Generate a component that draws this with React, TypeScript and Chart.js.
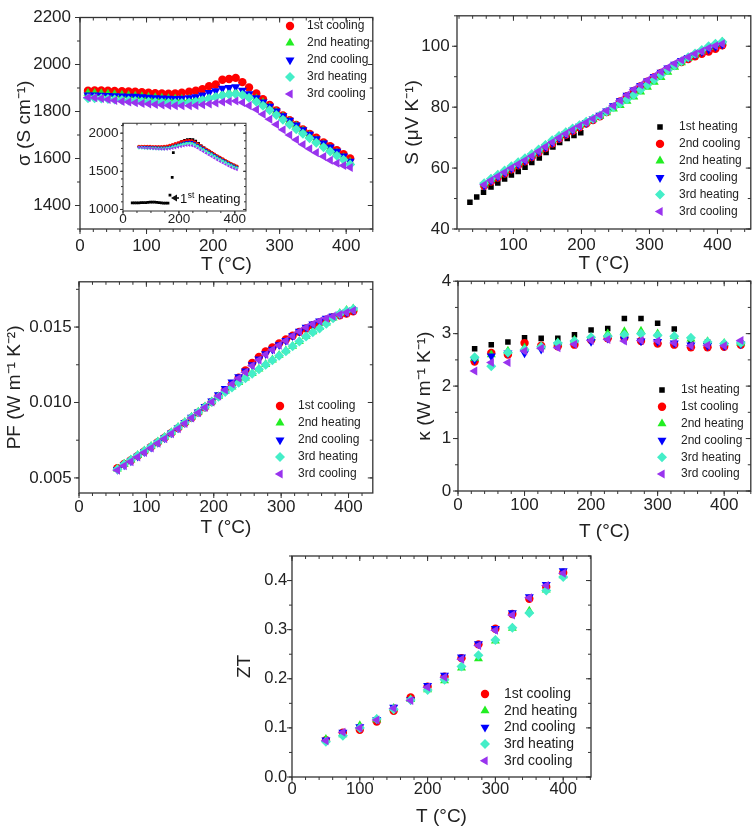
import React, { useEffect, useRef } from 'react';
import { Chart, registerables } from 'chart.js';
import { drawPoint } from 'chart.js/helpers';

Chart.register(...registerables);

const FONT = '"Liberation Sans", Arial, Helvetica, sans-serif';

// ---------------- σ (main) ----------------
const sigT = [12, 22, 32, 42, 52, 63, 73, 83, 93, 103, 113, 123, 133, 143, 153, 164, 174, 184, 194, 204, 214, 224, 234, 244, 254, 265, 275, 285, 295, 305, 315, 325, 335, 345, 355, 366, 376, 386, 396, 406];
const sig1stCooling = [1888, 1890, 1890, 1888, 1887, 1886, 1885, 1884, 1882, 1880, 1878, 1877, 1876, 1877, 1880, 1884, 1888, 1895, 1908, 1915, 1935, 1938, 1943, 1925, 1902, 1877, 1852, 1828, 1805, 1783, 1763, 1743, 1724, 1705, 1688, 1668, 1652, 1635, 1618, 1600];
const sig2ndHeating = [1878, 1878, 1877, 1875, 1873, 1870, 1868, 1866, 1864, 1862, 1860, 1858, 1856, 1854, 1853, 1853, 1855, 1858, 1862, 1868, 1875, 1880, 1882, 1878, 1868, 1855, 1838, 1818, 1798, 1778, 1758, 1738, 1718, 1698, 1678, 1660, 1642, 1625, 1605, 1585];
const sig2ndCooling = [1870, 1870, 1869, 1868, 1867, 1866, 1865, 1864, 1862, 1860, 1858, 1857, 1856, 1855, 1856, 1858, 1862, 1870, 1880, 1888, 1898, 1902, 1905, 1890, 1875, 1858, 1840, 1822, 1802, 1782, 1762, 1742, 1722, 1703, 1684, 1666, 1648, 1630, 1610, 1588];
const sig3rdHeating = [1856, 1856, 1855, 1853, 1851, 1849, 1847, 1845, 1843, 1841, 1839, 1838, 1837, 1836, 1836, 1838, 1842, 1848, 1855, 1862, 1868, 1872, 1875, 1870, 1858, 1842, 1825, 1805, 1785, 1765, 1745, 1725, 1705, 1686, 1667, 1648, 1630, 1612, 1595, 1575];
const sig3rdCooling = [1860, 1858, 1855, 1851, 1847, 1843, 1840, 1837, 1834, 1832, 1830, 1828, 1826, 1825, 1824, 1824, 1826, 1829, 1832, 1836, 1840, 1843, 1845, 1838, 1825, 1808, 1788, 1767, 1745, 1722, 1700, 1680, 1660, 1642, 1625, 1608, 1593, 1580, 1570, 1562];
const sigXTicks = [0, 100, 200, 300, 400];
const sigYTicks = [1400, 1600, 1800, 2000, 2200];

// ---------------- σ (inset) ----------------
const insT = [57, 67, 77, 87, 97, 107, 117, 127, 137, 147, 157, 167, 177, 187, 197, 207, 217, 227, 237, 247, 257, 267, 277, 287, 297, 307, 317, 327, 337, 347, 357, 367, 377, 387, 397, 407];
const ins1stCooling = [1825, 1826, 1826, 1825, 1824, 1823, 1822, 1822, 1823, 1826, 1830, 1838, 1848, 1860, 1872, 1884, 1895, 1902, 1905, 1898, 1880, 1858, 1835, 1812, 1790, 1768, 1746, 1724, 1702, 1680, 1660, 1640, 1620, 1600, 1582, 1566];
const ins2ndHeating = [1818, 1818, 1817, 1816, 1815, 1813, 1812, 1811, 1811, 1813, 1816, 1822, 1830, 1840, 1851, 1862, 1872, 1880, 1884, 1880, 1866, 1846, 1824, 1802, 1780, 1758, 1736, 1714, 1692, 1671, 1651, 1631, 1611, 1592, 1574, 1558];
const ins2ndCooling = [1820, 1820, 1819, 1818, 1816, 1814, 1812, 1810, 1809, 1810, 1813, 1819, 1828, 1839, 1851, 1863, 1875, 1884, 1889, 1884, 1868, 1847, 1825, 1802, 1780, 1758, 1736, 1714, 1692, 1671, 1650, 1630, 1610, 1591, 1573, 1556];
const ins3rdHeating = [1808, 1808, 1806, 1804, 1802, 1800, 1798, 1797, 1796, 1797, 1800, 1806, 1814, 1824, 1834, 1845, 1854, 1861, 1864, 1860, 1846, 1826, 1804, 1782, 1760, 1738, 1716, 1694, 1672, 1651, 1631, 1611, 1592, 1573, 1555, 1540];
const ins3rdCooling = [1812, 1810, 1807, 1804, 1801, 1798, 1795, 1793, 1791, 1790, 1791, 1795, 1801, 1808, 1816, 1824, 1832, 1838, 1841, 1836, 1822, 1803, 1781, 1759, 1737, 1715, 1693, 1671, 1650, 1629, 1609, 1589, 1570, 1552, 1536, 1522];
const insHeatT = [33, 41, 49, 57, 65, 73, 81, 89, 97, 105, 113, 121, 129, 137, 145, 153, 161, 168, 176, 180, 190, 200, 210, 220, 230, 240, 250, 260, 270, 280, 290, 300, 310, 320, 330, 340, 350, 360, 370, 380, 390, 400, 407];
const ins1stHeating = [1088, 1088, 1087, 1088, 1089, 1090, 1091, 1093, 1095, 1096, 1095, 1093, 1090, 1087, 1084, 1082, 1084, 1187, 1420, 1745, 1840, 1870, 1890, 1905, 1915, 1920, 1915, 1895, 1865, 1835, 1808, 1782, 1758, 1734, 1710, 1688, 1666, 1646, 1626, 1606, 1588, 1572, 1560];
const insXTicks = [0, 200, 400];
const insYTicks = [1000, 1500, 2000];

// ---------------- S ----------------
const sHeatT = [36, 46, 56, 67, 77, 87, 97, 107, 117, 127, 138, 148, 158, 168, 179, 189, 199];
const s1stHeating = [48.8, 50.5, 52.1, 53.8, 55.1, 56.4, 57.7, 58.9, 60.3, 61.8, 63.3, 65.1, 66.9, 68.4, 69.7, 70.7, 71.6];
const sT = [57, 67, 77, 87, 97, 107, 117, 127, 137, 147, 157, 167, 177, 187, 197, 207, 217, 227, 237, 247, 257, 267, 277, 287, 297, 307, 317, 327, 337, 347, 357, 367, 377, 387, 397, 407];
const s2ndCooling = [54.2, 55.6, 56.9, 58.2, 59.6, 60.9, 62.2, 63.6, 65.1, 66.6, 68.1, 69.6, 70.9, 72.2, 73.4, 74.6, 75.8, 77.0, 78.4, 80.1, 81.9, 83.6, 85.3, 86.9, 88.4, 89.8, 91.2, 92.5, 93.7, 94.8, 95.8, 96.7, 97.5, 98.3, 99.2, 100.3];
const s2ndHeating = [54.8, 56.3, 57.6, 59.0, 60.4, 61.7, 63.0, 64.4, 65.9, 67.4, 68.9, 70.3, 71.6, 72.8, 73.9, 75.0, 76.0, 77.0, 78.2, 79.4, 80.6, 82.0, 83.4, 85.0, 86.6, 88.2, 89.8, 91.5, 93.1, 94.6, 96.0, 97.2, 98.5, 99.6, 100.6, 101.4];
const s3rdCoolingA = [54.3, 55.9, 57.2, 58.5, 59.9, 61.2, 62.5, 63.9, 65.4, 66.9, 68.4, 69.9, 71.2, 72.5, 73.7, 74.9, 76.1, 77.3, 78.7, 80.4, 82.1, 83.9, 85.6, 87.1, 88.6, 90.0, 91.4, 92.8, 94.1, 95.3, 96.3, 97.3, 98.2, 99.0, 99.8, 100.6];
const s3rdHeating = [55.0, 56.5, 57.8, 59.2, 60.6, 61.9, 63.2, 64.6, 66.1, 67.6, 69.1, 70.5, 71.8, 73.0, 74.1, 75.2, 76.2, 77.3, 78.6, 80.0, 81.3, 82.6, 84.0, 85.7, 87.4, 89.0, 90.6, 92.2, 93.7, 95.1, 96.4, 97.6, 98.8, 100.0, 100.8, 101.5];
const s3rdCoolingB = [54.5, 56.0, 57.3, 58.6, 60.0, 61.3, 62.6, 64.0, 65.5, 67.0, 68.5, 70.0, 71.3, 72.6, 73.8, 75.0, 76.2, 77.4, 78.8, 80.5, 82.2, 84.0, 85.8, 87.3, 88.8, 90.2, 91.6, 93.0, 94.3, 95.5, 96.5, 97.5, 98.4, 99.4, 100.2, 100.8];
const sXTicks = [100, 200, 300, 400];
const sYTicks = [40, 60, 80, 100];

// ---------------- PF ----------------
const pfT = [57, 67, 77, 87, 97, 107, 117, 127, 137, 147, 157, 167, 177, 187, 197, 207, 217, 227, 237, 247, 257, 267, 277, 287, 297, 307, 317, 327, 337, 347, 357, 367, 377, 387, 397, 407];
const pf1stCooling = [0.00565, 0.00592, 0.00617, 0.00646, 0.00676, 0.00706, 0.00736, 0.00766, 0.00798, 0.0083, 0.00864, 0.00898, 0.00933, 0.00968, 0.01003, 0.01042, 0.01082, 0.01122, 0.01164, 0.01212, 0.01262, 0.01302, 0.01338, 0.01365, 0.01392, 0.01418, 0.01442, 0.01468, 0.0149, 0.01512, 0.0153, 0.01548, 0.01565, 0.01578, 0.0159, 0.01605];
const pf2ndHeating = [0.0056, 0.00592, 0.0062, 0.0065, 0.0068, 0.0071, 0.0074, 0.0077, 0.00802, 0.00836, 0.0087, 0.00904, 0.00938, 0.00972, 0.01006, 0.0104, 0.01073, 0.01103, 0.01133, 0.01163, 0.01193, 0.01223, 0.01253, 0.01283, 0.01313, 0.01343, 0.01373, 0.01405, 0.0144, 0.0147, 0.01497, 0.01527, 0.0156, 0.01592, 0.01612, 0.01622];
const pf2ndCooling = [0.00555, 0.00585, 0.00612, 0.00643, 0.00673, 0.00703, 0.00734, 0.00765, 0.00797, 0.00831, 0.00866, 0.00902, 0.00937, 0.00973, 0.0101, 0.0105, 0.01092, 0.01135, 0.0117, 0.01208, 0.0125, 0.01288, 0.01322, 0.01352, 0.01382, 0.0141, 0.01442, 0.01472, 0.01498, 0.0152, 0.0154, 0.01558, 0.01572, 0.01585, 0.01598, 0.01612];
const pf3rdHeating = [0.00558, 0.0059, 0.00618, 0.00648, 0.00678, 0.00708, 0.00738, 0.00768, 0.008, 0.00834, 0.00868, 0.00902, 0.00936, 0.0097, 0.01004, 0.01038, 0.0107, 0.011, 0.0113, 0.0116, 0.0119, 0.0122, 0.0125, 0.0128, 0.0131, 0.0134, 0.01372, 0.01404, 0.01438, 0.01466, 0.0149, 0.01522, 0.01558, 0.01588, 0.01608, 0.0162];
const pf3rdCooling = [0.0055, 0.0058, 0.00608, 0.00638, 0.00668, 0.00698, 0.00729, 0.0076, 0.00792, 0.00826, 0.00861, 0.00897, 0.00932, 0.00967, 0.01003, 0.01043, 0.01083, 0.01122, 0.0116, 0.012, 0.01243, 0.01282, 0.01318, 0.0135, 0.0138, 0.0141, 0.0144, 0.0147, 0.01497, 0.0152, 0.0154, 0.01558, 0.01572, 0.01584, 0.01597, 0.0161];
const pfXTicks = [0, 100, 200, 300, 400];
const pfYTicks = [0.005, 0.01, 0.015];
const pfYLabels = ['0.005', '0.010', '0.015'];

// ---------------- κ ----------------
const kT = [25, 50, 75, 100, 125, 150, 175, 200, 225, 250, 275, 300, 325, 350, 375, 400, 425];
const k1stHeating = [2.71, 2.79, 2.84, 2.92, 2.91, 2.91, 2.98, 3.07, 3.1, 3.29, 3.29, 3.2, 3.09, 2.87, 2.84, 2.8, 2.82];
const k1stCooling = [2.47, 2.63, 2.6, 2.82, 2.77, 2.76, 2.79, 2.88, 2.91, 2.92, 2.86, 2.81, 2.79, 2.74, 2.74, 2.75, 2.79];
const k2ndHeating = [2.53, 2.6, 2.67, 2.73, 2.75, 2.83, 2.88, 2.92, 3.0, 3.04, 3.05, 3.0, 2.95, 2.9, 2.85, 2.82, 2.82];
const k2ndCooling = [2.5, 2.57, 2.63, 2.63, 2.7, 2.78, 2.82, 2.85, 2.91, 2.89, 2.86, 2.85, 2.82, 2.78, 2.77, 2.77, 2.8];
const k3rdHeating = [2.55, 2.38, 2.64, 2.7, 2.75, 2.82, 2.86, 2.93, 2.95, 2.98, 3.0, 2.97, 2.95, 2.92, 2.84, 2.81, 2.82];
const k3rdCooling = [2.29, 2.45, 2.45, 2.67, 2.72, 2.73, 2.8, 2.87, 2.89, 2.86, 2.87, 2.86, 2.82, 2.77, 2.78, 2.77, 2.87];
const kXTicks = [0, 100, 200, 300, 400];
const kYTicks = [0, 1, 2, 3, 4];

// ---------------- ZT ----------------
const ztT = [50, 75, 100, 125, 150, 175, 200, 225, 250, 275, 300, 325, 350, 375, 400];
const zt1stCooling = [0.075, 0.09, 0.096, 0.113, 0.135, 0.162, 0.184, 0.204, 0.242, 0.27, 0.302, 0.332, 0.363, 0.387, 0.416];
const zt2ndHeating = [0.077, 0.086, 0.105, 0.117, 0.14, 0.158, 0.178, 0.196, 0.222, 0.241, 0.277, 0.303, 0.338, 0.381, 0.41];
const zt2ndCooling = [0.075, 0.091, 0.102, 0.117, 0.142, 0.157, 0.186, 0.207, 0.244, 0.271, 0.302, 0.334, 0.367, 0.392, 0.42];
const zt3rdHeating = [0.072, 0.084, 0.1, 0.118, 0.138, 0.157, 0.177, 0.198, 0.225, 0.248, 0.279, 0.304, 0.334, 0.38, 0.407];
const zt3rdCooling = [0.074, 0.091, 0.1, 0.116, 0.14, 0.156, 0.183, 0.203, 0.24, 0.268, 0.299, 0.33, 0.365, 0.39, 0.415];
const ztXTicks = [0, 100, 200, 300, 400];
const ztYTicks = [0, 0.1, 0.2, 0.3, 0.4];
const ztYLabels = ['0.0', '0.1', '0.2', '0.3', '0.4'];

// ---------------- marker styles ----------------
const SQ = { color: '#000000', pointStyle: 'rect', rotation: 0, radius: 3.9 };
const CI = { color: '#ff0000', pointStyle: 'circle', rotation: 0, radius: 4.2 };
const UP = { color: '#22ee22', pointStyle: 'triangle', rotation: 0, radius: 5.2 };
const DN = { color: '#0000ff', pointStyle: 'triangle', rotation: 180, radius: 5.2 };
const DI = { color: '#44eec8', pointStyle: 'rectRot', rotation: 0, radius: 5 };
const LT = { color: '#9933ee', pointStyle: 'triangle', rotation: -90, radius: 5.2 };

function series(label: string, xs: number[], ys: number[], st: any, scale = 1) {
  return {
    label,
    data: xs.map((x, i) => ({ x, y: ys[i] })),
    showLine: false,
    pointStyle: st.pointStyle,
    pointRotation: st.rotation,
    pointRadius: st.radius * scale,
    pointHoverRadius: st.radius * scale,
    pointBorderWidth: 0,
    pointBackgroundColor: st.color,
    pointBorderColor: st.color,
    backgroundColor: st.color,
    borderColor: st.color,
  };
}

// ---------------- plugins ----------------
function seq(min: number, max: number, step: number) {
  const out: number[] = [];
  const n0 = Math.ceil(min / step - 1e-6);
  const n1 = Math.floor(max / step + 1e-6);
  for (let n = n0; n <= n1; n++) out.push(n * step);
  return out;
}

const framePlugin = {
  id: 'frame',
  beforeDatasetsDraw(chart: any, _a: any, o: any) {
    if (!o || !o.on) return;
    const { ctx, chartArea: a } = chart;
    const xs = chart.scales.x;
    const ys = chart.scales.y;
    ctx.save();
    if (o.fill) {
      ctx.fillStyle = o.fill;
      ctx.fillRect(a.left, a.top, a.right - a.left, a.bottom - a.top);
    }
    ctx.strokeStyle = o.color;
    ctx.lineWidth = o.tickWidth;
    ctx.beginPath();
    const xl: any[] = [[o.xMinor, o.minLen], [o.xMajor, o.majLen]];
    for (const [step, len] of xl) {
      for (const v of seq(xs.min, xs.max, step)) {
        const p = xs.getPixelForValue(v);
        ctx.moveTo(p, a.bottom);
        ctx.lineTo(p, a.bottom + len);
        ctx.moveTo(p, a.top);
        ctx.lineTo(p, a.top + len);
      }
    }
    const yl: any[] = [[o.yMinor, o.minLen], [o.yMajor, o.majLen]];
    for (const [step, len] of yl) {
      for (const v of seq(ys.min, ys.max, step)) {
        const p = ys.getPixelForValue(v);
        ctx.moveTo(a.left, p);
        ctx.lineTo(a.left - len, p);
        ctx.moveTo(a.right, p);
        ctx.lineTo(a.right - len, p);
      }
    }
    ctx.stroke();
    ctx.lineWidth = o.lineWidth;
    ctx.strokeRect(a.left, a.top, a.right - a.left, a.bottom - a.top);
    ctx.restore();
  },
};

const legendPlugin = {
  id: 'ptLegend',
  afterDatasetsDraw(chart: any, _a: any, o: any) {
    if (!o || !o.on) return;
    const ctx = chart.ctx;
    ctx.save();
    ctx.font = `${o.size}px ${FONT}`;
    ctx.textBaseline = 'middle';
    ctx.textAlign = 'left';
    chart.data.datasets.forEach((d: any, i: number) => {
      const y = o.y + i * o.dy;
      ctx.fillStyle = d.pointBackgroundColor;
      ctx.strokeStyle = d.pointBorderColor;
      drawPoint(ctx, { pointStyle: d.pointStyle, rotation: d.pointRotation, radius: d.pointRadius, borderWidth: 0 } as any, o.x, y);
      ctx.fillStyle = '#222';
      ctx.fillText(d.label, o.tx, y);
    });
    ctx.restore();
  },
};

const notePlugin = {
  id: 'note',
  afterDatasetsDraw(chart: any, _a: any, o: any) {
    if (!o || !o.on) return;
    const ctx = chart.ctx;
    ctx.save();
    ctx.strokeStyle = '#111';
    ctx.fillStyle = '#111';
    ctx.lineWidth = 1.6;
    ctx.beginPath();
    ctx.moveTo(o.tipX + 4, o.y);
    ctx.lineTo(o.tailX, o.y);
    ctx.stroke();
    ctx.beginPath();
    ctx.moveTo(o.tipX, o.y);
    ctx.lineTo(o.tipX + 6, o.y - 3.5);
    ctx.lineTo(o.tipX + 6, o.y + 3.5);
    ctx.closePath();
    ctx.fill();
    ctx.textBaseline = 'alphabetic';
    ctx.textAlign = 'left';
    ctx.font = `${o.size}px ${FONT}`;
    let x = o.textX;
    const base = o.y + o.size * 0.36;
    ctx.fillText('1', x, base);
    x += ctx.measureText('1').width + 0.5;
    ctx.font = `${o.size * 0.65}px ${FONT}`;
    ctx.fillText('st', x, base - o.size * 0.38);
    x += ctx.measureText('st').width;
    ctx.font = `${o.size}px ${FONT}`;
    ctx.fillText(' heating', x, base);
    ctx.restore();
  },
};

Chart.register(framePlugin as any, legendPlugin as any, notePlugin as any);

// ---------------- panel builder ----------------
function buildConfig(c: any) {
  const box = c.box;
  const yAxisW = c.plot.l - box.left;
  const padTop = c.plot.t - box.top;
  const padRight = box.left + box.w - c.plot.r;
  const xAxisH = box.top + box.h - c.plot.b;
  const n = c.datasets.length;
  const tickFont = { family: FONT, size: c.tickSize, lineHeight: 1 };
  const titleFont = { family: FONT, size: c.titleSize, lineHeight: 1.2 };
  return {
    type: 'scatter',
    data: { datasets: c.datasets.map((d: any, i: number) => ({ ...d, order: n - i })) },
    options: {
      animation: false,
      responsive: false,
      maintainAspectRatio: false,
      events: [],
      layout: { padding: { top: padTop, right: padRight, left: 0, bottom: 0 } },
      plugins: {
        legend: { display: false },
        tooltip: { enabled: false },
        frame: {
          on: true,
          fill: c.fill || null,
          color: '#333',
          lineWidth: c.frameWidth || 1.3,
          tickWidth: 1,
          majLen: c.majLen || 5,
          minLen: c.minLen || 3,
          xMajor: c.xMajor,
          xMinor: c.xMinor,
          yMajor: c.yMajor,
          yMinor: c.yMinor,
        },
        ptLegend: c.legend
          ? { on: true, x: c.legend.x - box.left, tx: c.legend.tx - box.left, y: c.legend.y - box.top, dy: c.legend.dy, size: c.legend.size }
          : { on: false },
        note: c.note
          ? { on: true, tipX: c.note.tipX - box.left, tailX: c.note.tailX - box.left, textX: c.note.textX - box.left, y: c.note.y - box.top, size: c.note.size }
          : { on: false },
      },
      scales: {
        x: {
          type: 'linear',
          position: 'bottom',
          min: c.xMin,
          max: c.xMax,
          afterFit: (s: any) => {
            s.height = xAxisH;
          },
          afterBuildTicks: (s: any) => {
            s.ticks = c.xTicks.map((v: number) => ({ value: v }));
          },
          ticks: {
            font: tickFont,
            color: '#222',
            padding: c.xTickPad,
            maxRotation: 0,
            autoSkip: false,
            callback: (v: any, i: number) => (c.xLabels ? c.xLabels[i] : String(c.xTicks[i])),
          },
          grid: { display: false, drawTicks: false },
          border: { display: false },
          title: c.xTitle
            ? { display: true, text: c.xTitle, font: titleFont, color: '#222', padding: { top: 0, bottom: c.xTitlePad } }
            : { display: false },
        },
        y: {
          type: 'linear',
          position: 'left',
          min: c.yMin,
          max: c.yMax,
          afterFit: (s: any) => {
            s.width = yAxisW;
          },
          afterBuildTicks: (s: any) => {
            s.ticks = c.yTicks.map((v: number) => ({ value: v }));
          },
          ticks: {
            font: tickFont,
            color: '#222',
            padding: c.yTickPad,
            autoSkip: false,
            callback: (v: any, i: number) => (c.yLabels ? c.yLabels[i] : String(c.yTicks[i])),
          },
          grid: { display: false, drawTicks: false },
          border: { display: false },
          title: c.yTitle
            ? { display: true, text: c.yTitle, font: titleFont, color: '#222', padding: { top: c.yTitlePad, bottom: 0 } }
            : { display: false },
        },
      },
    },
  };
}

function Panel({ cfg }: { cfg: any }) {
  const ref = useRef<HTMLCanvasElement>(null);
  useEffect(() => {
    const chart = new Chart(ref.current as HTMLCanvasElement, buildConfig(cfg) as any);
    return () => chart.destroy();
  }, []);
  const b = cfg.box;
  return (
    <canvas
      ref={ref}
      width={b.w}
      height={b.h}
      style={{ position: 'absolute', left: b.left, top: b.top, width: b.w, height: b.h }}
    />
  );
}

// ---------------- panel configs ----------------
const sigmaCfg = {
  box: { left: 0, top: 0, w: 378, h: 282 },
  plot: { l: 80, t: 9, r: 376, b: 229 },
  xMin: 0, xMax: 440, yMin: 1300, yMax: 2200,
  xTicks: sigXTicks, yTicks: sigYTicks,
  xMajor: 100, xMinor: 20, yMajor: 200, yMinor: 100,
  tickSize: 17, titleSize: 19,
  xTickPad: 9, yTickPad: 9,
  xTitle: 'T (°C)', xTitlePad: 6,
  yTitle: 'σ (S cm⁻¹)', yTitlePad: 13.6,
  legend: { x: 290, tx: 307, y: 26, dy: 17, size: 12 },
  datasets: [
    series('1st cooling', sigT, sig1stCooling, CI),
    series('2nd heating', sigT, sig2ndHeating, UP),
    series('2nd cooling', sigT, sig2ndCooling, DN),
    series('3rd heating', sigT, sig3rdHeating, DI),
    series('3rd cooling', sigT, sig3rdCooling, LT),
  ],
};

const insetCfg = {
  box: { left: 84, top: 112, w: 166, h: 118 },
  plot: { l: 123, t: 119, r: 246, b: 211 },
  xMin: 0, xMax: 440, yMin: 980, yMax: 2130,
  xTicks: insXTicks, yTicks: insYTicks,
  xMajor: 200, xMinor: 50, yMajor: 500, yMinor: 100,
  majLen: 3, minLen: 2, frameWidth: 1,
  fill: '#ffffff',
  tickSize: 13.5, titleSize: 12,
  xTickPad: 2, yTickPad: 4.5,
  note: { tipX: 171, tailX: 179, textX: 180, y: 198, size: 13 },
  datasets: [
    series('1st heating', insHeatT, ins1stHeating, SQ, 0.5),
    series('1st cooling', insT, ins1stCooling, CI, 0.42),
    series('2nd heating', insT, ins2ndHeating, UP, 0.35),
    series('2nd cooling', insT, ins2ndCooling, DN, 0.35),
    series('3rd heating', insT, ins3rdHeating, DI, 0.4),
    series('3rd cooling', insT, ins3rdCooling, LT, 0.35),
  ],
};

const sCfg = {
  box: { left: 378, top: 0, w: 378, h: 282 },
  plot: { l: 457, t: 9, r: 752, b: 229 },
  xMin: 17, xMax: 449, yMin: 40, yMax: 110,
  xTicks: sXTicks, yTicks: sYTicks,
  xMajor: 100, xMinor: 20, yMajor: 20, yMinor: 10,
  tickSize: 17, titleSize: 19,
  xTickPad: 7.5, yTickPad: 7.3,
  xTitle: 'T (°C)', xTitlePad: 7,
  yTitle: 'S (μV K⁻¹)', yTitlePad: 23.6,
  legend: { x: 660, tx: 679, y: 127, dy: 16.9, size: 12 },
  datasets: [
    series('1st heating', sHeatT, s1stHeating, SQ),
    series('2nd cooling', sT, s2ndCooling, CI),
    series('2nd heating', sT, s2ndHeating, UP),
    series('3rd cooling', sT, s3rdCoolingA, DN),
    series('3rd heating', sT, s3rdHeating, DI),
    series('3rd cooling', sT, s3rdCoolingB, LT),
  ],
};

const pfCfg = {
  box: { left: 0, top: 266, w: 378, h: 282 },
  plot: { l: 79, t: 274, r: 373, b: 493 },
  xMin: 0, xMax: 436, yMin: 0.004, yMax: 0.018,
  xTicks: pfXTicks, yTicks: pfYTicks, yLabels: pfYLabels,
  xMajor: 100, xMinor: 20, yMajor: 0.005, yMinor: 0.0025,
  tickSize: 17, titleSize: 19,
  xTickPad: 5.8, yTickPad: 7.3,
  xTitle: 'T (°C)', xTitlePad: 9,
  yTitle: 'PF (W m⁻¹ K⁻²)', yTitlePad: 3.6,
  legend: { x: 280, tx: 298, y: 406, dy: 17, size: 12 },
  datasets: [
    series('1st cooling', pfT, pf1stCooling, CI),
    series('2nd heating', pfT, pf2ndHeating, UP),
    series('2nd cooling', pfT, pf2ndCooling, DN),
    series('3rd heating', pfT, pf3rdHeating, DI),
    series('3rd cooling', pfT, pf3rdCooling, LT),
  ],
};

const kCfg = {
  box: { left: 378, top: 266, w: 378, h: 282 },
  plot: { l: 458, t: 274, r: 753, b: 491 },
  xMin: 0, xMax: 440, yMin: 0, yMax: 4,
  xTicks: kXTicks, yTicks: kYTicks,
  xMajor: 100, xMinor: 20, yMajor: 1, yMinor: 0.5,
  tickSize: 17, titleSize: 19,
  xTickPad: 5.5, yTickPad: 6.7,
  xTitle: 'T (°C)', xTitlePad: 5,
  yTitle: 'κ (W m⁻¹ K⁻¹)', yTitlePad: 35.6,
  legend: { x: 662, tx: 681, y: 390, dy: 16.8, size: 12 },
  datasets: [
    series('1st heating', kT, k1stHeating, SQ),
    series('1st cooling', kT, k1stCooling, CI),
    series('2nd heating', kT, k2ndHeating, UP),
    series('2nd cooling', kT, k2ndCooling, DN),
    series('3rd heating', kT, k3rdHeating, DI),
    series('3rd cooling', kT, k3rdCooling, LT),
  ],
};

const ztCfg = {
  box: { left: 200, top: 540, w: 400, h: 288 },
  plot: { l: 292, t: 556, r: 591, b: 777 },
  xMin: 0, xMax: 441, yMin: 0, yMax: 0.45,
  xTicks: ztXTicks, yTicks: ztYTicks, yLabels: ztYLabels,
  xMajor: 100, xMinor: 20, yMajor: 0.1, yMinor: 0.05,
  tickSize: 16.5, titleSize: 19,
  xTickPad: 4, yTickPad: 4.7,
  xTitle: 'T (°C)', xTitlePad: 0,
  yTitle: 'ZT', yTitlePad: 33.6,
  legend: { x: 485, tx: 504, y: 694, dy: 16.7, size: 14 },
  datasets: [
    series('1st cooling', ztT, zt1stCooling, CI),
    series('2nd heating', ztT, zt2ndHeating, UP),
    series('2nd cooling', ztT, zt2ndCooling, DN),
    series('3rd heating', ztT, zt3rdHeating, DI),
    series('3rd cooling', ztT, zt3rdCooling, LT),
  ],
};

export default function App() {
  return (
    <div style={{ position: 'absolute', left: 0, top: 0, width: 756, height: 828, background: '#ffffff', overflow: 'hidden' }}>
      <Panel cfg={sigmaCfg} />
      <Panel cfg={sCfg} />
      <Panel cfg={pfCfg} />
      <Panel cfg={kCfg} />
      <Panel cfg={ztCfg} />
      <Panel cfg={insetCfg} />
    </div>
  );
}
